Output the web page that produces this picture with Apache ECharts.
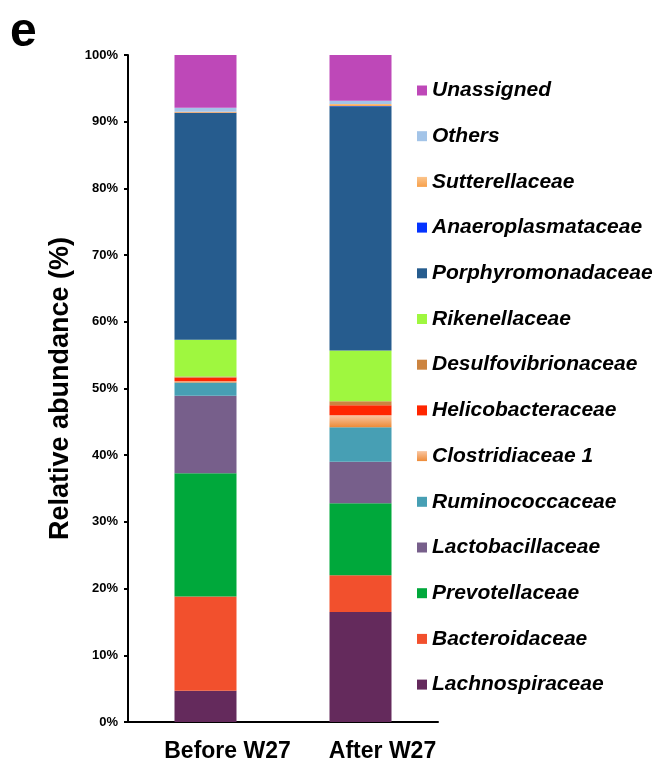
<!DOCTYPE html>
<html>
<head>
<meta charset="utf-8">
<script src="https://cdn.jsdelivr.net/npm/echarts@6/dist/echarts.min.js"></script>
<style>
html,body{margin:0;padding:0;background:#fff;}
#chart{width:658px;height:768px;}
</style>
</head>
<body>
<div id="chart"></div>
<script>
// Categories and tick labels
const categories = ['Before W27', 'After W27'];
const yTicks = [0, 10, 20, 30, 40, 50, 60, 70, 80, 90, 100];

// Series values (% relative abundance), bottom to top
const lachnospiraceae     = [4.7, 16.5];
const bacteroidaceae      = [14.1, 5.5];
const prevotellaceae      = [18.5, 10.8];
const lactobacillaceae    = [11.6, 6.2];
const ruminococcaceae     = [2.0, 5.2];
const clostridiaceae1     = [0.2, 1.8];
const helicobacteraceae   = [0.5, 1.5];
const desulfovibrionaceae = [0.2, 0.6];
const rikenellaceae       = [5.5, 7.6];
const porphyromonadaceae  = [34.0, 36.6];
const anaeroplasmataceae  = [0.05, 0.05];
const sutterellaceae      = [0.15, 0.3];
const others              = [0.6, 0.5];
const unassigned          = [7.9, 6.85];

const grad = (a, b) => new echarts.graphic.LinearGradient(0, 0, 0, 1, [
  {offset: 0, color: a}, {offset: 1, color: b}
]);

const seriesDefs = [
  ['Lachnospiraceae', lachnospiraceae, '#642A5C'],
  ['Bacteroidaceae', bacteroidaceae, '#F2502D'],
  ['Prevotellaceae', prevotellaceae, '#00A83B'],
  ['Lactobacillaceae', lactobacillaceae, '#775F8B'],
  ['Ruminococcaceae', ruminococcaceae, '#479FB4'],
  ['Clostridiaceae 1', clostridiaceae1, grad('#F9C6A2', '#EE8B38')],
  ['Helicobacteraceae', helicobacteraceae, '#FF2600'],
  ['Desulfovibrionaceae', desulfovibrionaceae, '#CC8440'],
  ['Rikenellaceae', rikenellaceae, '#9FF73F'],
  ['Porphyromonadaceae', porphyromonadaceae, '#265C8E'],
  ['Anaeroplasmataceae', anaeroplasmataceae, '#0433FF'],
  ['Sutterellaceae', sutterellaceae, grad('#FBC48C', '#F7A04A')],
  ['Others', others, '#A3C4E8'],
  ['Unassigned', unassigned, '#BE48B8']
];

const FONT = '"Liberation Sans", Arial, Helvetica, sans-serif';

const chart = echarts.init(document.getElementById('chart'), null, {renderer: 'canvas'});
chart.setOption({
  animation: false,
  backgroundColor: '#fff',
  title: {
    text: 'e', left: 10, top: 9, padding: 0,
    textStyle: {fontFamily: FONT, fontSize: 48, fontWeight: 'bold', color: '#000'}
  },
  grid: {left: 128, top: 55, width: 310, bottom: 46, containLabel: false},
  legend: {
    orient: 'vertical',
    left: 412, top: 75,
    itemWidth: 10, itemHeight: 10, itemGap: 24.7,
    icon: 'rect',
    data: seriesDefs.map(d => d[0]).reverse(),
    textStyle: {fontFamily: FONT, fontSize: 21, fontWeight: 'bold', fontStyle: 'italic', color: '#000', lineHeight: 21},
    selectedMode: false
  },
  xAxis: {
    type: 'category',
    data: categories,
    axisLine: {lineStyle: {color: '#000', width: 2}},
    axisTick: {show: false},
    axisLabel: {interval: 0, hideOverlap: false, fontFamily: FONT, fontSize: 23, fontWeight: 'bold', color: '#000', margin: 18, padding: [0, 0, 0, 44]}
  },
  yAxis: {
    type: 'value',
    min: yTicks[0], max: yTicks[yTicks.length - 1], interval: 10,
    name: 'Relative abundance (%)',
    nameLocation: 'middle', nameGap: 54, nameRotate: 90,
    nameTextStyle: {fontFamily: FONT, fontSize: 27, fontWeight: 'bold', color: '#000'},
    axisLine: {show: true, lineStyle: {color: '#000', width: 2}},
    axisTick: {show: true, length: 4, lineStyle: {color: '#000', width: 2}},
    splitLine: {show: false},
    axisLabel: {fontFamily: FONT, fontSize: 13, fontWeight: 'bold', color: '#000', margin: 10, formatter: '{value}%'}
  },
  series: seriesDefs.map(([name, vals, color]) => ({
    name, type: 'bar', stack: 'total', barWidth: 62,
    data: vals,
    itemStyle: {color},
    emphasis: {disabled: true}
  }))
});
</script>
</body>
</html>
